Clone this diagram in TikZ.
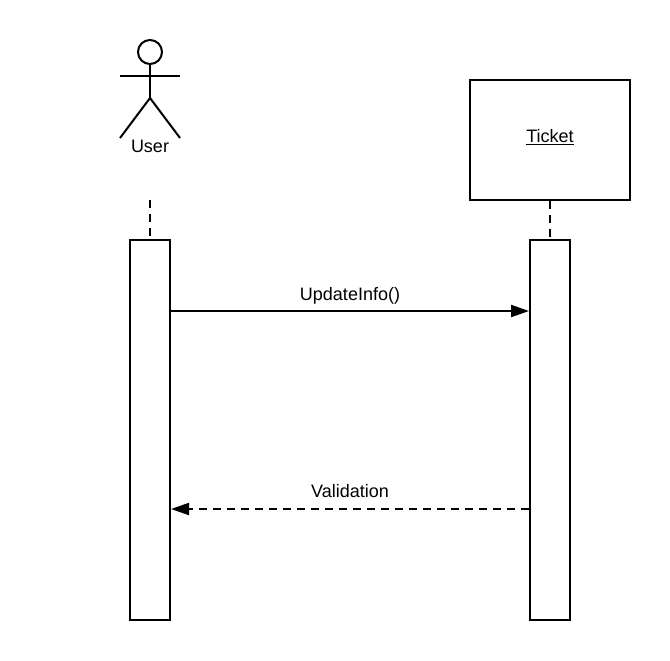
\documentclass[tikz,border=0pt]{standalone}
\usepackage{fontspec}
\setmainfont{Liberation Sans}
\usetikzlibrary{arrows.meta}
\tikzset{
    activation/.style={draw, line width=1.5pt, fill=white, minimum width=40*0.75pt, minimum height=380*0.75pt, inner sep=0pt},
    lifeline/.style={line width=1.5pt, dash pattern=on 6pt off 4.5pt},
    message/.style={line width=1.5pt, -{Triangle[length=13.5pt,width=9pt]}},
    label/.style={font=\fontsize{13.5}{15}\selectfont, inner sep=0pt}
}
\begin{document}
\begin{tikzpicture}[x=0.75pt, y=-0.75pt]
    \useasboundingbox (0,0) rectangle (670,660);

    % 1. User actor
    \draw[line width=1.5pt] (150,52) circle[radius=12*0.75pt];
    \draw[line width=1.5pt] (150,64) -- (150,98);
    \draw[line width=1.5pt] (120,76) -- (180,76);
    \draw[line width=1.5pt] (120,138) -- (150,98) -- (180,138);
    \node[label] (user) at (150,146) {User};
    \coordinate (usertail) at (150,200);

    % 2. Ticket object
    \node[draw, line width=1.5pt, minimum width=160*0.75pt, minimum height=120*0.75pt, inner sep=0pt] (ticket) at (550,140) {};
    \node[label] (ticketlabel) at (550,137.5) {\underline{Ticket}};

    % 3. Lifelines and activation bars
    \node[activation] (userbar) at (150,430) {};
    \node[activation] (ticketbar) at (550,430) {};
    \draw[lifeline] (usertail) -- (userbar.north);
    \draw[lifeline] (ticket.south) -- (ticketbar.north);

    % 4. Messages
    \coordinate (callfrom) at (170,311);
    \coordinate (callto) at (529,311);
    \coordinate (replyfrom) at (529,509);
    \coordinate (replyto) at (171,509);
    \draw[message] (callfrom) -- (callto);
    \node[label] (update) at (350,295.5) {UpdateInfo()};
    \draw[message, dash pattern=on 6pt off 4.5pt] (replyfrom) -- (replyto);
    \node[label] (validation) at (350,491) {Validation};
\end{tikzpicture}
\end{document}
